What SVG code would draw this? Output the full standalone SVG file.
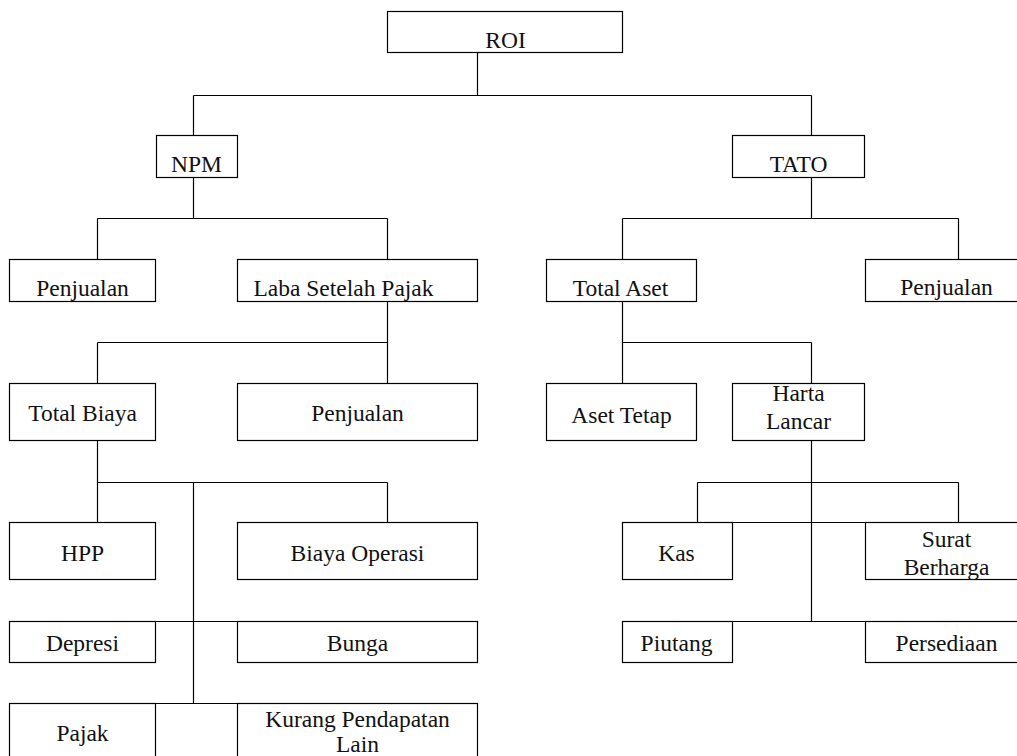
<svg xmlns="http://www.w3.org/2000/svg" width="1017" height="756" viewBox="0 0 1017 756">
<style>
rect{fill:#fff;stroke:#000;stroke-width:1.2}
.c line{stroke:#000;stroke-width:1.2}
text{font-family:"Liberation Serif","Times New Roman",serif;font-size:23.5px;fill:#111;text-anchor:middle}
</style>
<rect x="0" y="0" width="1017" height="756" style="stroke:none"/>
<g transform="translate(0.5,0.5)">
<g class="c" id="connectors">
<line x1="477" y1="52" x2="477" y2="95"/>
<line x1="193" y1="95" x2="811" y2="95"/>
<line x1="193" y1="95" x2="193" y2="135"/>
<line x1="811" y1="95" x2="811" y2="135"/>
<line x1="193" y1="177" x2="193" y2="218"/>
<line x1="97" y1="218" x2="387" y2="218"/>
<line x1="97" y1="218" x2="97" y2="259"/>
<line x1="387" y1="218" x2="387" y2="259"/>
<line x1="387" y1="301" x2="387" y2="383"/>
<line x1="97" y1="342" x2="387" y2="342"/>
<line x1="97" y1="342" x2="97" y2="383"/>
<line x1="97" y1="440" x2="97" y2="522"/>
<line x1="97" y1="482" x2="387" y2="482"/>
<line x1="387" y1="482" x2="387" y2="522"/>
<line x1="193" y1="482" x2="193" y2="703"/>
<line x1="155" y1="621" x2="237" y2="621"/>
<line x1="155" y1="703" x2="237" y2="703"/>
<line x1="811" y1="177" x2="811" y2="218"/>
<line x1="622" y1="218" x2="958" y2="218"/>
<line x1="622" y1="218" x2="622" y2="259"/>
<line x1="958" y1="218" x2="958" y2="259"/>
<line x1="622" y1="301" x2="622" y2="383"/>
<line x1="622" y1="342" x2="811" y2="342"/>
<line x1="811" y1="342" x2="811" y2="383"/>
<line x1="811" y1="440" x2="811" y2="621"/>
<line x1="697" y1="482" x2="958" y2="482"/>
<line x1="697" y1="482" x2="697" y2="522"/>
<line x1="958" y1="482" x2="958" y2="522"/>
<line x1="732" y1="522" x2="865" y2="522"/>
<line x1="732" y1="621" x2="865" y2="621"/>
</g>
<g id="roi"><rect x="387" y="11" width="235" height="41"/><text x="505" y="47">ROI</text></g>
<g id="npm"><rect x="156" y="135" width="81" height="42"/><text x="196" y="171">NPM</text></g>
<g id="tato"><rect x="732" y="135" width="132" height="42"/><text x="798" y="171">TATO</text></g>
<g id="penjualan1"><rect x="9" y="259" width="146" height="42"/><text x="82" y="295">Penjualan</text></g>
<g id="laba"><rect x="237" y="259" width="240" height="42"/><text x="343" y="295">Laba Setelah Pajak</text></g>
<g id="totalaset"><rect x="546" y="259" width="150" height="42"/><text x="620" y="295">Total Aset</text></g>
<g id="penjualan3"><rect x="865" y="259" width="170" height="42"/><text x="946" y="294">Penjualan</text></g>
<g id="totalbiaya"><rect x="9" y="383" width="146" height="57"/><text x="82" y="420">Total Biaya</text></g>
<g id="penjualan2"><rect x="237" y="383" width="240" height="57"/><text x="357" y="420">Penjualan</text></g>
<g id="asettetap"><rect x="546" y="383" width="150" height="57"/><text x="621" y="422">Aset Tetap</text></g>
<g id="hartalancar"><rect x="732" y="383" width="132" height="57"/><text x="798" y="400">Harta</text><text x="798" y="428">Lancar</text></g>
<g id="hpp"><rect x="9" y="522" width="146" height="57"/><text x="82" y="560">HPP</text></g>
<g id="biayaoperasi"><rect x="237" y="522" width="240" height="57"/><text x="357" y="560">Biaya Operasi</text></g>
<g id="kas"><rect x="622" y="522" width="110" height="57"/><text x="676" y="560">Kas</text></g>
<g id="suratberharga"><rect x="865" y="522" width="170" height="57"/><text x="946" y="546">Surat</text><text x="946" y="574">Berharga</text></g>
<g id="depresi"><rect x="9" y="621" width="146" height="41"/><text x="82" y="650">Depresi</text></g>
<g id="bunga"><rect x="237" y="621" width="240" height="41"/><text x="357" y="650">Bunga</text></g>
<g id="piutang"><rect x="622" y="621" width="110" height="41"/><text x="676" y="650">Piutang</text></g>
<g id="persediaan"><rect x="865" y="621" width="170" height="41"/><text x="946" y="650">Persediaan</text></g>
<g id="pajak"><rect x="9" y="703" width="146" height="70"/><text x="82" y="740">Pajak</text></g>
<g id="kurang"><rect x="237" y="703" width="240" height="70"/><text x="357" y="726">Kurang Pendapatan</text><text x="357" y="751">Lain</text></g>
</g>
</svg>
